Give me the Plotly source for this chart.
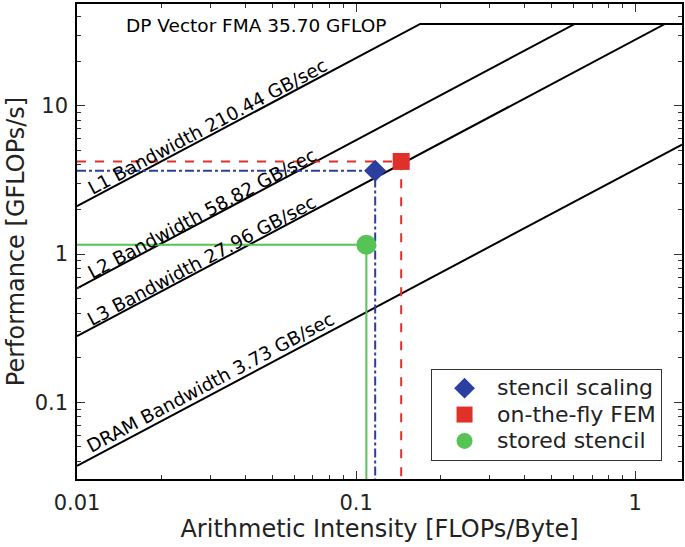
import numpy as np
import plotly.graph_objects as go

# ---- data ----
peak_label = "DP Vector FMA"
peak_gflops = 35.70
bw_names = ["L1", "L2", "L3", "DRAM"]
bw_values = [210.44, 58.82, 27.96, 3.73]
bw_label_x = [0.0294, 0.0280, 0.0280, 0.0300]  # where each label sits along its line

point_names = ["stencil scaling", "on-the-fly FEM", "stored stencil"]
point_ai = [0.117, 0.145, 0.1088]
point_perf = [3.65, 4.22, 1.156]
point_colors = ["#2b3fa0", "#e0302a", "#55c455"]
point_symbols = ["diamond", "square", "circle"]
point_sizes = [17, 17, 20]
guide_dash = ["dashdot", "dash", "solid"]

x_min, x_max = 0.01, 1.47
y_min, y_max = 0.0304, 48.7

x_ticks = [0.01, 0.1, 1]
x_ticktext = ["0.01", "0.1", "1"]
y_ticks = [0.1, 1, 10]
y_ticktext = ["0.1", "1", "10"]

FONT = "DejaVu Sans"
fig = go.Figure()

# roofline segments
for name, bw in zip(bw_names, bw_values):
    ridge = peak_gflops / bw
    xs = [x_min] + ([ridge] if ridge < x_max else []) + [x_max]
    ys = [min(bw * x, peak_gflops) for x in xs]
    fig.add_trace(go.Scatter(x=xs, y=ys, mode="lines",
                             line=dict(color="black", width=2),
                             showlegend=False, hoverinfo="skip"))

# guide lines + markers
for i in range(len(point_names)):
    xa, ya = point_ai[i], point_perf[i]
    fig.add_trace(go.Scatter(x=[x_min, xa, xa], y=[ya, ya, y_min], mode="lines",
                             line=dict(color=point_colors[i], width=2, dash=guide_dash[i]),
                             showlegend=False, hoverinfo="skip"))
for i in range(len(point_names)):
    fig.add_trace(go.Scatter(x=[point_ai[i]], y=[point_perf[i]], mode="markers",
                             name=f'<span style="font-size:22px">{point_names[i]}</span>',
                             marker=dict(color=point_colors[i], symbol=point_symbols[i],
                                         size=point_sizes[i], line=dict(width=0))))

# slope angle in screen pixels
plot_w, plot_h = 605, 475
ang = np.degrees(np.arctan((plot_h / np.log10(y_max / y_min)) / (plot_w / np.log10(x_max / x_min))))

label_shift = [10, 9, 9, 13]
for name, bw, lx, sh in zip(bw_names, bw_values, bw_label_x, label_shift):
    fig.add_annotation(x=np.log10(lx), y=np.log10(bw * lx),
                       text=f"{name} Bandwidth {bw:.2f} GB/sec",
                       textangle=-ang, showarrow=False, yshift=sh,
                       xanchor="center", yanchor="middle",
                       font=dict(family=FONT, size=18.5, color="black"))

fig.add_annotation(x=np.log10(0.0438), y=np.log10(peak_gflops),
                   text=f"{peak_label} {peak_gflops:.2f} GFLOP", showarrow=False,
                   yshift=-2, xanchor="center", yanchor="middle",
                   font=dict(family=FONT, size=18.5, color="black"))

axis_common = dict(type="log", showline=True, linecolor="black", linewidth=1.5,
                   mirror="ticks", ticks="inside", ticklen=8, tickwidth=1.2,
                   tickcolor="#333", showgrid=False, zeroline=False, automargin=False,
                   tickfont=dict(family=FONT, size=21, color="#222"))

fig.update_xaxes(range=[np.log10(x_min), np.log10(x_max)], tickmode="array",
                 tickvals=x_ticks, ticktext=x_ticktext, ticklabelstandoff=4,
                 minor=dict(ticks="inside", ticklen=4, tickcolor="#333",
                            tickvals=[m * 10.0 ** k for k in range(-2, 1) for m in range(2, 10)]),
                 title=dict(text="Arithmetic Intensity [FLOPs/Byte]",
                            font=dict(family=FONT, size=24, color="#222"), standoff=6),
                 **axis_common)
fig.update_yaxes(range=[np.log10(y_min), np.log10(y_max)], tickmode="array",
                 tickvals=y_ticks, ticktext=y_ticktext, ticklabelstandoff=3,
                 minor=dict(ticks="inside", ticklen=4, tickcolor="#333",
                            tickvals=[m * 10.0 ** k for k in range(-2, 2) for m in range(2, 10)]),
                 title=dict(text="Performance [GFLOPs/s]",
                            font=dict(family=FONT, size=24, color="#222"), standoff=3),
                 **axis_common)

fig.update_layout(
    width=685, height=547,
    margin=dict(l=77, r=3, t=4, b=68),
    plot_bgcolor="white", paper_bgcolor="white",
    font=dict(family=FONT, color="#222"),
    legend=dict(x=0.967, y=0.038, xanchor="right", yanchor="bottom",
                bgcolor="white", bordercolor="#333", borderwidth=1, itemwidth=55,
                font=dict(family=FONT, size=18, color="#222")),
)

fig.write_html("out.html", config={"displayModeBar": False},
               post_script="document.body.style.margin='0';document.body.style.overflow='hidden';")
